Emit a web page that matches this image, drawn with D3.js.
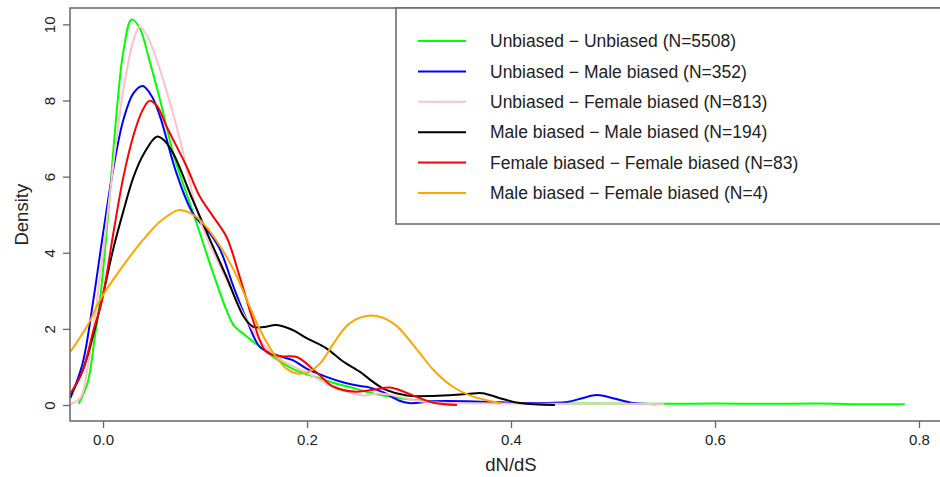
<!DOCTYPE html>
<html>
<head>
<meta charset="utf-8">
<script src="https://cdn.jsdelivr.net/npm/d3@7"></script>
<style>
  body { margin: 0; background: #fff; }
  svg { display: block; font-family: "Liberation Sans", Arial, sans-serif; }
</style>
</head>
<body>
<div id="chart"></div>
<script>
// legend labels, one per density curve
const seriesNames = [
  "Unbiased \u2212 Unbiased (N=5508)",
  "Unbiased \u2212 Male biased (N=352)",
  "Unbiased \u2212 Female biased (N=813)",
  "Male biased \u2212 Male biased (N=194)",
  "Female biased \u2212 Female biased (N=83)",
  "Male biased \u2212 Female biased (N=4)"
];
const seriesColors = ["#00ff00", "#0000ff", "#ffc0cb", "#000000", "#ff0000", "#ffa500"];

// [dN/dS, density]
const unbiasedUnbiased = [[-0.024,0.03],[-0.015,0.6],[-0.008,1.8],[-0.003,2.76],[0.005,5.0],[0.013,7.6],[0.02,9.3],[0.028,10.13],[0.036,9.9],[0.045,9.1],[0.056,8.0],[0.07,6.5],[0.0885,5.04],[0.1,4.1],[0.108,3.46],[0.121,2.49],[0.128,2.1],[0.141,1.8],[0.16,1.4],[0.186,0.95],[0.213,0.7],[0.23,0.55],[0.245,0.45],[0.258,0.35],[0.275,0.25],[0.291,0.18],[0.324,0.09],[0.36,0.06],[0.4,0.05],[0.45,0.04],[0.5,0.04],[0.55,0.03],[0.6,0.04],[0.65,0.03],[0.7,0.04],[0.75,0.02],[0.786,0.02]];
const unbiasedMale = [[-0.032,0.18],[-0.02,1.1],[-0.0095,2.76],[0.0,4.5],[0.01,6.2],[0.02,7.5],[0.03,8.2],[0.039,8.38],[0.048,8.1],[0.056,7.57],[0.072,6.09],[0.088,5.04],[0.105,4.5],[0.115,4.07],[0.128,3.1],[0.141,2.23],[0.154,1.52],[0.17,1.31],[0.186,1.18],[0.2,0.95],[0.219,0.74],[0.235,0.6],[0.252,0.5],[0.26,0.47],[0.275,0.33],[0.29,0.12],[0.3,0.05],[0.324,0.1],[0.356,0.1],[0.39,0.07],[0.42,0.05],[0.455,0.08],[0.47,0.18],[0.484,0.26],[0.5,0.18],[0.52,0.05],[0.543,0.02]];
const unbiasedFemale = [[-0.032,0.02],[-0.022,0.2],[-0.015,1.0],[-0.008,2.3],[0.0,4.0],[0.01,6.3],[0.02,8.3],[0.03,9.6],[0.036,9.94],[0.045,9.6],[0.059,8.54],[0.0755,6.96],[0.09,5.3],[0.1,4.5],[0.115,3.63],[0.13,2.8],[0.141,2.23],[0.16,1.5],[0.18,1.1],[0.2,0.85],[0.22,0.55],[0.24,0.35],[0.255,0.25],[0.27,0.3],[0.29,0.22],[0.31,0.1],[0.35,0.05],[0.4,0.04],[0.45,0.03],[0.5,0.04],[0.55,0.02]];
const maleMale = [[-0.032,0.26],[-0.02,0.9],[-0.01,1.8],[0.0,2.9],[0.01,4.1],[0.02,5.1],[0.03,6.0],[0.04,6.6],[0.0526,7.05],[0.06,6.95],[0.069,6.6],[0.088,5.38],[0.105,4.33],[0.121,3.37],[0.138,2.32],[0.147,2.06],[0.158,2.05],[0.17,2.1],[0.186,1.97],[0.2,1.75],[0.219,1.49],[0.235,1.15],[0.252,0.87],[0.265,0.6],[0.278,0.39],[0.298,0.25],[0.324,0.24],[0.357,0.29],[0.372,0.31],[0.389,0.18],[0.409,0.05],[0.443,0.0]];
const femaleFemale = [[-0.032,0.3],[-0.02,0.9],[-0.01,1.9],[-0.001,2.76],[0.01,4.5],[0.02,6.0],[0.03,7.1],[0.038,7.7],[0.0454,7.99],[0.053,7.85],[0.0624,7.31],[0.082,6.26],[0.095,5.47],[0.108,4.95],[0.121,4.42],[0.134,3.37],[0.147,2.23],[0.16,1.4],[0.175,1.28],[0.19,1.26],[0.21,0.84],[0.226,0.48],[0.248,0.35],[0.265,0.4],[0.281,0.46],[0.295,0.35],[0.308,0.21],[0.324,0.06],[0.347,0.0]];
const maleFemale = [[-0.032,1.4],[-0.015,2.1],[-0.003,2.76],[0.0167,3.55],[0.039,4.33],[0.056,4.82],[0.074,5.12],[0.085,5.05],[0.095,4.86],[0.111,4.33],[0.128,3.55],[0.141,2.76],[0.154,1.97],[0.167,1.36],[0.18,0.95],[0.19,0.83],[0.2,0.85],[0.213,1.1],[0.226,1.62],[0.242,2.15],[0.263,2.35],[0.285,2.14],[0.308,1.45],[0.324,0.92],[0.343,0.48],[0.363,0.22],[0.389,0.05],[0.39,0.04]];

const seriesValues = [unbiasedUnbiased, unbiasedMale, unbiasedFemale, maleMale, femaleFemale, maleFemale];
const xTicks = [0, 0.2, 0.4, 0.6, 0.8];
const yTicks = [0, 2, 4, 6, 8, 10];

const W = 940, H = 477;
const box = { left: 70, right: 950, top: 8, bottom: 421 };

const svg = d3.select('#chart').append('svg')
    .attr('width', W)
    .attr('height', H);

const x = d3.scaleLinear().domain([-0.0324, 0.8304]).range([box.left, box.right]);
const y = d3.scaleLinear().domain([-0.42, 10.43]).range([box.bottom, box.top]);

svg.append('defs').append('clipPath').attr('id', 'plotclip')
    .append('rect')
    .attr('x', box.left).attr('y', box.top)
    .attr('width', box.right - box.left).attr('height', box.bottom - box.top);

// curves
const line = d3.line()
    .x(d => x(d[0]))
    .y(d => y(d[1]))
    .curve(d3.curveCatmullRom.alpha(0.5));

svg.append('g').attr('clip-path', 'url(#plotclip)')
    .selectAll('path')
    .data(seriesValues)
    .enter()
    .append('path')
    .attr('d', line)
    .attr('fill', 'none')
    .attr('stroke', (d, i) => seriesColors[i])
    .attr('stroke-width', 2)
    .attr('stroke-linejoin', 'round');

// frame
svg.append('rect')
    .attr('x', box.left).attr('y', box.top)
    .attr('width', box.right - box.left).attr('height', box.bottom - box.top)
    .attr('fill', 'none')
    .attr('stroke', '#666')
    .attr('stroke-width', 1.5);

// x axis
const xAxis = svg.append('g')
    .attr('transform', `translate(0,${box.bottom})`)
    .call(d3.axisBottom(x).tickValues(xTicks).tickFormat(d3.format('.1f')).tickSize(7).tickPadding(6));
xAxis.select('.domain').remove();
xAxis.selectAll('line').attr('stroke', '#666').attr('stroke-width', 1.3);
xAxis.selectAll('text').attr('font-size', 15).attr('fill', '#222').attr('font-family', 'Liberation Sans, Arial, sans-serif');

// y axis, labels turned like R's default
const yAxis = svg.append('g')
    .attr('transform', `translate(${box.left},0)`)
    .call(d3.axisLeft(y).tickValues(yTicks).tickSize(7).tickPadding(6));
yAxis.select('.domain').remove();
yAxis.selectAll('line').attr('stroke', '#666').attr('stroke-width', 1.3);
yAxis.selectAll('text')
    .attr('font-size', 15).attr('fill', '#222').attr('font-family', 'Liberation Sans, Arial, sans-serif')
    .attr('text-anchor', 'middle')
    .attr('dy', 0)
    .attr('transform', 'rotate(-90)')
    .attr('x', 0)
    .attr('y', -15.5);

// axis titles
svg.append('text')
    .attr('x', (x(0) + x(0.8)) / 2)
    .attr('y', 471)
    .attr('text-anchor', 'middle')
    .attr('font-size', 18.5)
    .attr('fill', '#222')
    .text('dN/dS');

svg.append('text')
    .attr('transform', `translate(28,${(y(0) + y(10)) / 2}) rotate(-90)`)
    .attr('text-anchor', 'middle')
    .attr('font-size', 18.5)
    .attr('fill', '#222')
    .text('Density');

// legend
const legend = svg.append('g');
legend.append('rect')
    .attr('x', 396).attr('y', box.top)
    .attr('width', 600).attr('height', 216)
    .attr('fill', '#fff')
    .attr('stroke', '#666')
    .attr('stroke-width', 1.5);

const rows = legend.selectAll('.row')
    .data(seriesNames)
    .enter()
    .append('g')
    .attr('class', 'row')
    .attr('transform', (d, i) => `translate(0,${41 + i * 30.4})`);

rows.append('line')
    .attr('x1', 418).attr('x2', 466)
    .attr('stroke', (d, i) => seriesColors[i])
    .attr('stroke-width', 2);

rows.append('text')
    .attr('x', 490)
    .attr('dy', '0.35em')
    .attr('font-size', 17.5)
    .attr('fill', '#222')
    .text(d => d);
</script>
</body>
</html>
